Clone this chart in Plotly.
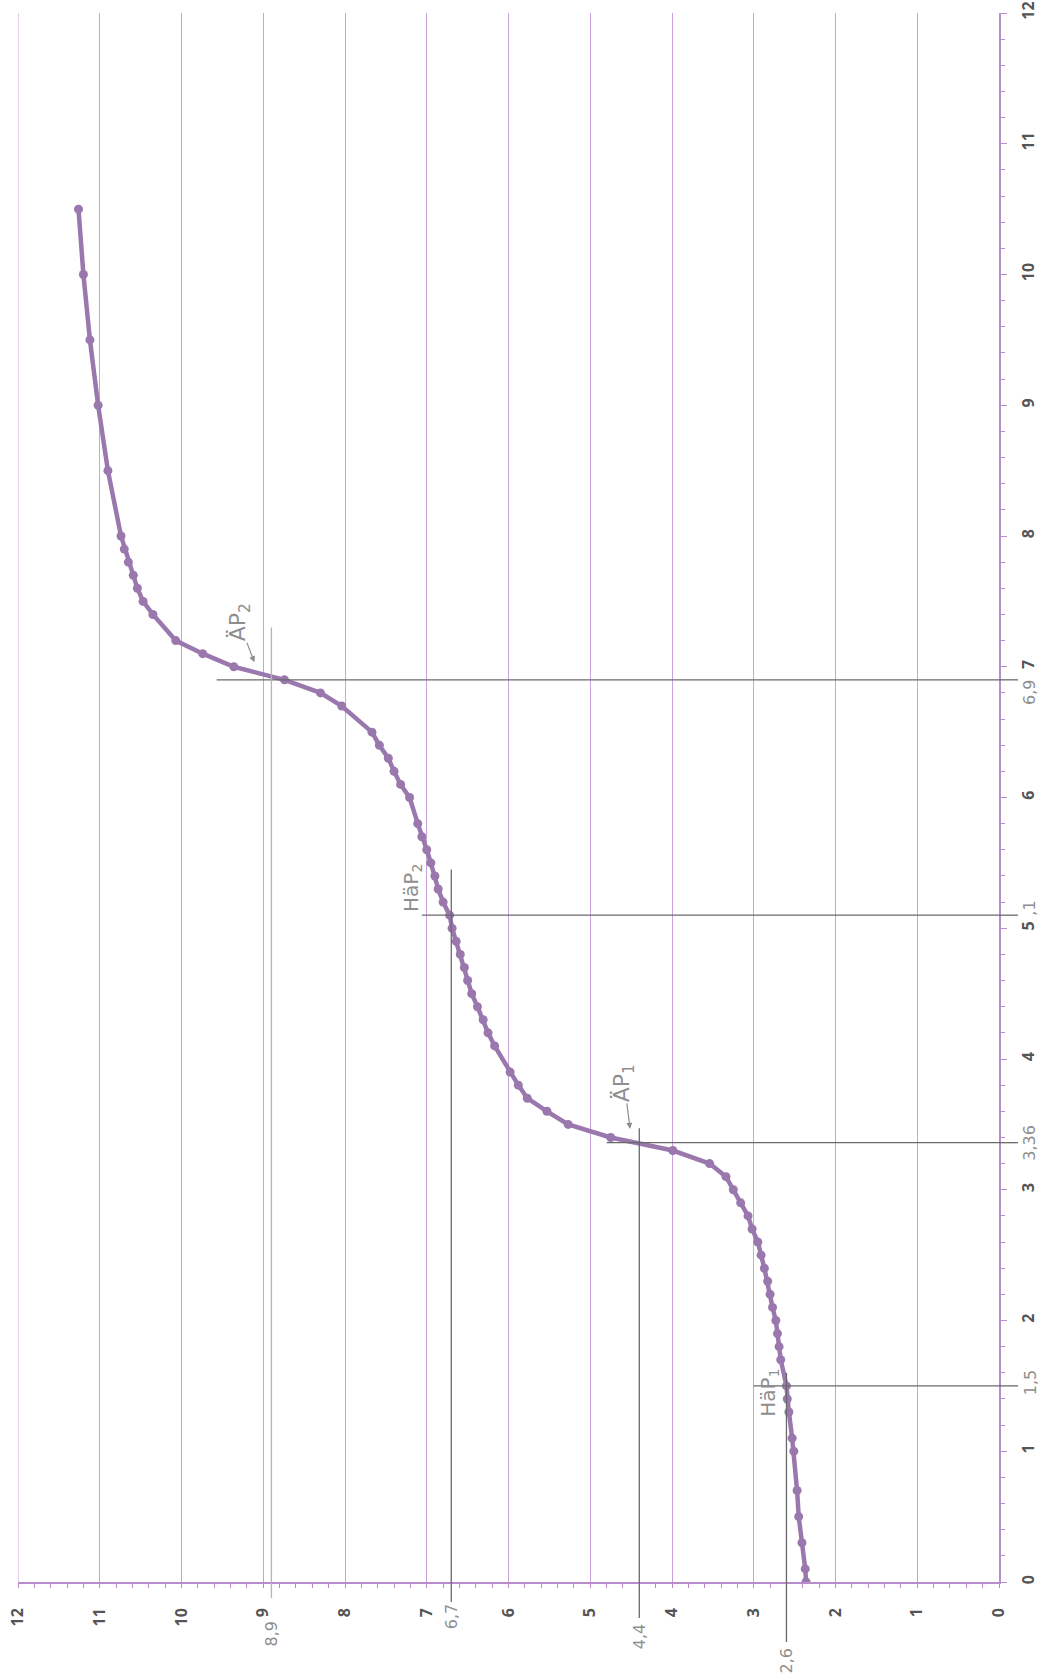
import plotly.graph_objects as go

# Titration curve: added volume (mL) against measured pH
volume_ml = [0.0, 0.1, 0.3, 0.5, 0.7, 1.0, 1.1, 1.3, 1.4, 1.5, 1.7, 1.8, 1.9, 2.0,
             2.1, 2.2, 2.3, 2.4, 2.5, 2.6, 2.7, 2.8, 2.9, 3.0, 3.1, 3.2, 3.3, 3.4,
             3.5, 3.6, 3.7, 3.8, 3.9, 4.1, 4.2, 4.3, 4.4, 4.5, 4.6, 4.7, 4.8, 4.9,
             5.0, 5.1, 5.2, 5.3, 5.4, 5.5, 5.6, 5.7, 5.8, 6.0, 6.1, 6.2, 6.3, 6.4,
             6.5, 6.7, 6.8, 6.9, 7.0, 7.1, 7.2, 7.4, 7.5, 7.6, 7.7, 7.8, 7.9, 8.0,
             8.5, 9.0, 9.5, 10.0, 10.5]
ph_values = [2.36, 2.37, 2.41, 2.45, 2.47, 2.51, 2.53, 2.57, 2.59, 2.60, 2.67, 2.69, 2.71, 2.73,
             2.77, 2.80, 2.83, 2.87, 2.91, 2.95, 3.02, 3.07, 3.16, 3.25, 3.34, 3.54, 3.99, 4.75,
             5.27, 5.53, 5.77, 5.88, 5.98, 6.17, 6.25, 6.31, 6.38, 6.45, 6.50, 6.54, 6.59, 6.64,
             6.69, 6.72, 6.80, 6.86, 6.90, 6.95, 7.00, 7.06, 7.11, 7.21, 7.32, 7.40, 7.47, 7.58,
             7.67, 8.04, 8.30, 8.74, 9.36, 9.74, 10.07, 10.35, 10.47, 10.54, 10.59, 10.65, 10.70, 10.74,
             10.90, 11.02, 11.12, 11.20, 11.26]

# Half-equivalence (HäP) and equivalence (ÄP) points
point_volume = [1.5, 3.36, 5.1, 6.9]
point_ph = [2.6, 4.4, 6.7, 8.9]
# pencil notes on the volume axis; 5,1 is written as ",1" after the printed 5
volume_text = ["1,5", "3,36", ",1", "6,9"]
ph_text = ["2,6", "4,4", "6,7", "8,9"]

# where each guide line starts on the far side of the curve
hline_start_ph = [3.0, 4.8, 7.06, 9.57]
vline_top_volume = [1.6, 3.47, 5.45, 7.3]
vline_drop_px = [60, 36, 20, 16]
ph_text_drop_px = [79, 55, 35, 52]
volume_text_shift = [0.02, 0.0, 0.05, -0.1]
guide_colors = ["#686868", "#6a6a6a", "#6a6a6a", "#b4b4b4"]

# handwritten point labels (half-equivalence ones sit beside the curve,
# equivalence ones carry a small arrow)
half_names = ["HäP<sub>1</sub>", "HäP<sub>2</sub>"]
half_label_ph = [2.81, 7.19]
half_label_vol = [1.45, 5.31]
eq_names = ["ÄP<sub>1</sub>", "ÄP<sub>2</sub>"]
eq_arrow_ph = [4.51, 9.1]
eq_arrow_vol = [3.45, 7.02]

ph_ticks = list(range(0, 13))
volume_ticks = list(range(0, 13))

CURVE = "#9a78ad"
GRID = "#c9a2dc"
AXIS = "#b98ccc"
PENCIL = "#8e8e8e"
HAND = "DejaVu Sans"

fig = go.Figure()
fig.add_trace(go.Scatter(
    x=ph_values, y=volume_ml, mode="lines+markers",
    line=dict(color=CURVE, width=4.5),
    marker=dict(color=CURVE, size=9),
    hoverinfo="skip", showlegend=False,
))

shapes = []
annotations = []

# outer grid line at pH 12
shapes.append(dict(type="line", xref="x", yref="y", x0=ph_ticks[-1], x1=ph_ticks[-1],
                   y0=volume_ticks[0], y1=volume_ticks[-1],
                   line=dict(color=GRID, width=1), layer="below"))

for i in range(len(point_volume)):
    v, p = point_volume[i], point_ph[i]
    col = guide_colors[i]
    # horizontal guide (constant volume) across to the volume axis ...
    shapes.append(dict(type="line", xref="x", yref="y", x0=hline_start_ph[i], x1=0,
                       y0=v, y1=v, line=dict(color="#6a6a6a", width=1.3)))
    # ... and a short stub past it
    shapes.append(dict(type="line", xref="paper", yref="y", xsizemode="pixel", xanchor=1,
                       x0=0, x1=19, y0=v, y1=v, line=dict(color="#6a6a6a", width=1.3)))
    # vertical guide (constant pH) down to the pH axis ...
    shapes.append(dict(type="line", xref="x", yref="y", x0=p, x1=p,
                       y0=vline_top_volume[i], y1=0, line=dict(color=col, width=1.3)))
    # ... and a little below it
    shapes.append(dict(type="line", xref="x", yref="paper", ysizemode="pixel", yanchor=0,
                       x0=p, x1=p, y0=-vline_drop_px[i], y1=0,
                       line=dict(color=col, width=1.3)))

    annotations.append(dict(xref="paper", yref="y", x=1, y=v + volume_text_shift[i],
                            xanchor="center", yanchor="middle",
                            xshift=31, text=volume_text[i], showarrow=False, textangle=-90,
                            font=dict(family=HAND, size=16, color=PENCIL)))
    annotations.append(dict(xref="x", yref="paper", x=p, y=0,
                            xanchor="center", yanchor="middle",
                            yshift=-ph_text_drop_px[i], text=ph_text[i], showarrow=False,
                            textangle=-90,
                            font=dict(family=HAND, size=16, color=PENCIL)))

for name, lx, ly in zip(half_names, half_label_ph, half_label_vol):
    annotations.append(dict(xref="x", yref="y", x=lx, y=ly, text=name, showarrow=False,
                            textangle=-90,
                            font=dict(family=HAND, size=20, color=PENCIL)))

for name, hx, hy, (dx, dy) in zip(eq_names, eq_arrow_ph, eq_arrow_vol, [(-6, -48), (-16, -42)]):
    annotations.append(dict(xref="x", yref="y", x=hx, y=hy, text=name, showarrow=True,
                            ax=dx, ay=dy, arrowhead=2, arrowsize=1, arrowwidth=1.2,
                            arrowcolor=PENCIL, standoff=2, textangle=-90,
                            font=dict(family=HAND, size=22, color=PENCIL)))

fig.update_layout(
    width=1051, height=1674,
    margin=dict(l=18, r=52, t=13, b=92, pad=0),
    paper_bgcolor="white", plot_bgcolor="white",
    shapes=shapes, annotations=annotations,
    xaxis=dict(
        range=[12, 0], tickvals=ph_ticks, ticktext=[str(t) for t in ph_ticks],
        showgrid=True, gridcolor=GRID, gridwidth=1, zeroline=False,
        showline=True, linecolor=AXIS, linewidth=1.5, automargin=False,
        ticks="outside", ticklen=4, tickcolor=AXIS, tickangle=-90,
        ticklabelstandoff=14, ticklabeloverflow="allow",
        minor=dict(dtick=0.2, ticks="outside", ticklen=4, tickcolor=AXIS, showgrid=False),
        tickfont=dict(family="Open Sans", size=16, color="#555555", weight="bold"),
    ),
    yaxis=dict(
        range=[0, 12], tickvals=volume_ticks, ticktext=[str(t) for t in volume_ticks],
        side="right", showgrid=False, zeroline=False,
        showline=True, linecolor=AXIS, linewidth=1.5, automargin=False,
        ticks="outside", ticklen=6, tickcolor=AXIS, tickangle=-90,
        ticklabelstandoff=8, ticklabeloverflow="allow",
        minor=dict(dtick=0.2, ticks="outside", ticklen=4, tickcolor=AXIS, showgrid=False),
        tickfont=dict(family="Open Sans", size=16, color="#555555", weight="bold"),
    ),
)

fig.write_html("out.html")
